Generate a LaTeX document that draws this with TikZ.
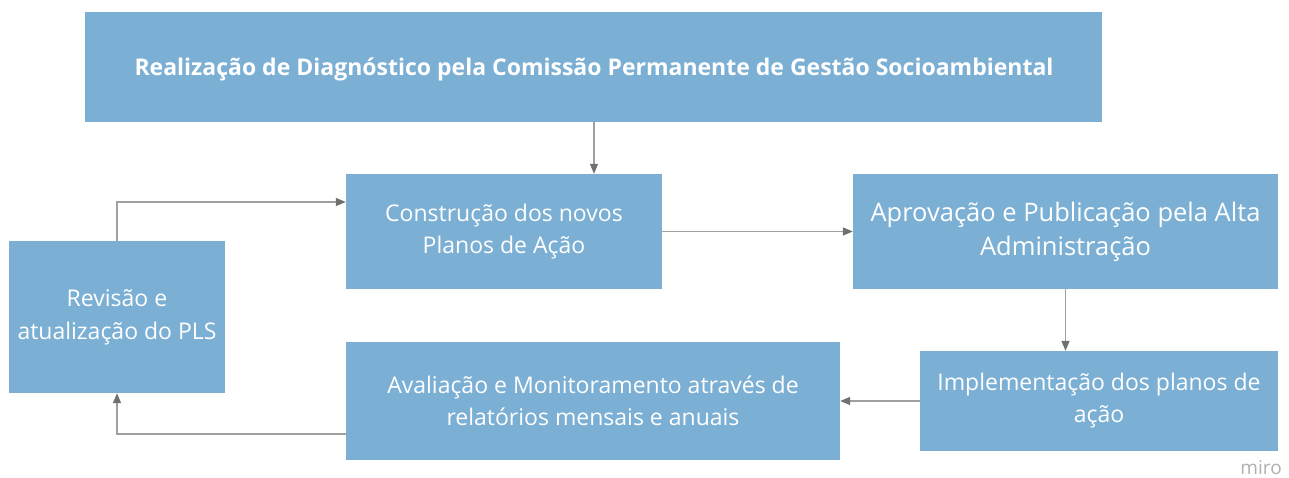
\documentclass[tikz,border=0pt]{standalone}
\usepackage{fontspec}
\setmainfont{Open Sans}
\usetikzlibrary{arrows.meta,positioning}
\definecolor{boxblue}{HTML}{7BAFD4}
\definecolor{linegray}{HTML}{A0A0A0}
\definecolor{tipgray}{HTML}{707070}
\definecolor{mirogray}{HTML}{B0B0B0}
\tikzset{
  box/.style={fill=boxblue, draw=none, text=white, align=center, inner sep=0pt},
  conn/.style={draw=linegray, line width=1.3pt, -{Triangle[length=10pt,width=8pt,color=tipgray]}},
}
\begin{document}
\begin{tikzpicture}[x=1pt,y=-1pt]
\useasboundingbox (0,0) rectangle (1289,477);
\fill[white] (0,0) rectangle (1289,477);
\node[box, minimum width=1017pt, minimum height=110pt] (diag) at (593.5,67) {};
\node[text=white, font=\fontsize{23}{28}\selectfont\bfseries, inner sep=0pt] (diagt) at (594,69) {Realização de Diagnóstico pela Comissão Permanente de Gestão Socioambiental};
\node[box, minimum width=316pt, minimum height=115pt, font=\fontsize{23}{32}\selectfont] (cons) at (504,231.5) {Construção dos novos\\Planos de Ação};
\node[box, minimum width=425pt, minimum height=115pt, font=\fontsize{25.5}{34}\selectfont] (apro) at (1065.5,231.5) {Aprovação e Publicação pela Alta\\Administração};
\node[box, minimum width=216pt, minimum height=152pt, font=\fontsize{23}{33}\selectfont] (rev) at (117,317) {Revisão e\\atualização do PLS};
\node[box, minimum width=494pt, minimum height=118pt, font=\fontsize{23}{32}\selectfont] (aval) at (593,401) {Avaliação e Monitoramento através de\\relatórios mensais e anuais};
\node[box, minimum width=358pt, minimum height=100pt, font=\fontsize{23}{32}\selectfont] (impl) at (1099,401) {Implementação dos planos de\\ação};
\node[text=mirogray, font=\fontsize{19}{22}\selectfont, anchor=east, inner sep=0pt] (miro) at (1282,468) {miro};
\coordinate (c1) at (117,434);
\coordinate (c2) at (117,202);
\coordinate (c0) at (594,122);
\draw[conn] (c0) -- (c0 |- cons.north);
\draw[conn] (cons.east) -- (apro.west);
\draw[conn] (apro.south) -- (apro.south |- impl.north);
\draw[conn] (impl.west) -- (impl.west -| aval.east);
\draw[conn] (aval.west |- c1) -- (c1) -- (rev.south);
\draw[conn] (rev.north) -- (c2) -- (c2 -| cons.west);
\end{tikzpicture}
\end{document}
